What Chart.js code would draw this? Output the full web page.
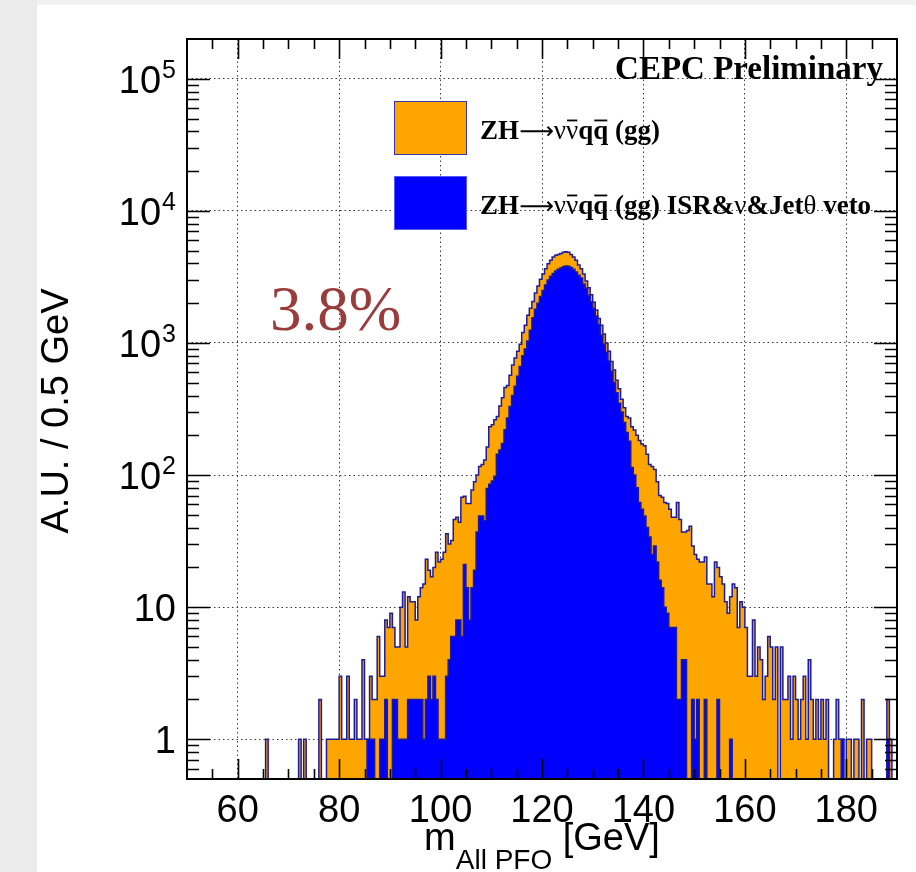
<!DOCTYPE html>
<html>
<head>
<meta charset="utf-8">
<title>m_All PFO</title>
<script src="https://cdn.jsdelivr.net/npm/chart.js@4.4.1/dist/chart.umd.min.js"></script>
<style>
    html, body { margin: 0; padding: 0; background: #fff; }
    canvas { display: block; }
</style>
</head>
<body>
<canvas id="massChart" width="916" height="872"></canvas>
<script>
// Histogram binning (GeV)
const massMin = 50;
const massMax = 190;
const binWidth = 0.5;

// Axis ranges and tick labels
const yAxisMin = 0.5;
const yAxisMax = 2e5;
const xTickValues = [60, 80, 100, 120, 140, 160, 180];
const yTickValues = [1, 10, 100, 1000, 10000, 100000];
const yTickBase = ['1', '10', '10', '10', '10', '10'];
const yTickExp = ['', '', '2', '3', '4', '5'];

// Entries per 0.5 GeV bin, 280 bins from 50 to 190 GeV
const allPfoCounts = [
    0, 0, 0, 0, 0, 0, 0, 0, 0, 0, 0, 0, 0, 0, 0, 0, 0, 0, 0, 0,                                   // 50-60
    0, 0, 0, 0, 0, 0, 0, 0, 0, 0, 0, 1, 0, 0, 0, 0, 0, 0, 0, 0,                                   // 60-70
    0, 0, 0, 0, 1, 0, 1, 0, 0, 0, 0, 0, 2, 0, 0, 1, 1, 1, 1, 1,                                   // 70-80
    3, 1, 1, 3, 1, 1, 2, 1, 1, 4, 1, 1, 3, 2, 2, 6, 3, 3, 8, 7,                                   // 80-90
    9, 7, 5, 5, 10, 13, 5, 12, 11, 11, 8, 12, 14, 15, 23, 19, 17, 20, 26, 22,                     // 90-100
    23, 26, 36, 30, 32, 46, 48, 44, 68, 69, 61, 61, 77, 89, 100, 116, 120, 130, 163, 232,         // 100-110
    240, 262, 278, 333, 385, 460, 476, 570, 680, 770, 866, 976, 1200, 1360, 1620, 1830, 2060, 2390, 2700, 3040,   // 110-120
    3330, 3640, 3970, 4220, 4480, 4620, 4670, 4760, 4850, 4900, 4850, 4670, 4480, 4220, 3900, 3640, 3330, 2950, 2620, 2320, // 120-130
    2030, 1775, 1530, 1360, 1170, 1000, 866, 725, 624, 521, 450, 375, 323, 278, 270, 232, 219, 200, 183, 172,     // 130-140
    167, 144, 120, 116, 110, 89, 70, 68, 62, 61, 55, 48, 48, 62, 46, 37, 37, 38, 41, 29,          // 140-150
    25, 23, 22, 22, 24, 15, 15, 12, 22, 20, 17, 15, 11, 9, 12, 15, 14, 7, 11, 10,                 // 150-160
    7, 3, 3, 8, 3, 5, 4, 2, 3, 6, 5, 2, 5, 0, 5, 2, 2, 3, 1, 3,                                   // 160-170
    2, 1, 2, 3, 1, 4, 2, 1, 2, 1, 2, 1, 2, 0, 0, 1, 2, 1, 1, 0,                                   // 170-180
    1, 1, 0, 1, 1, 0, 2, 0, 1, 1, 0, 0, 0, 0, 0, 0, 2, 1, 0, 0                                    // 180-190
];

// Same binning after the ISR, neutrino and jet-angle vetoes
const vetoCounts = [
    0, 0, 0, 0, 0, 0, 0, 0, 0, 0, 0, 0, 0, 0, 0, 0, 0, 0, 0, 0,                                   // 50-60
    0, 0, 0, 0, 0, 0, 0, 0, 0, 0, 0, 0, 0, 0, 0, 0, 0, 0, 0, 0,                                   // 60-70
    0, 0, 0, 0, 0, 0, 0, 0, 0, 0, 0, 0, 0, 0, 0, 0, 0, 0, 0, 0,                                   // 70-80
    0, 0, 0, 0, 0, 0, 0, 0, 0, 0, 0, 1, 1, 1, 0, 0, 1, 1, 2, 0,                                   // 80-90
    0, 2, 2, 1, 1, 1, 1, 2, 2, 2, 2, 2, 2, 1, 2, 3, 2, 3, 2, 1,                                   // 90-100
    1, 1, 3, 4, 6, 6, 8, 8, 6, 21, 14, 8, 14, 19, 37, 49, 49, 45, 79, 85,                         // 100-110
    90, 98, 144, 155, 173, 220, 270, 330, 400, 470, 560, 662, 800, 900, 1035, 1250, 1550, 1800, 2000, 2250,       // 110-120
    2500, 2750, 3000, 3200, 3350, 3500, 3620, 3700, 3780, 3820, 3800, 3720, 3620, 3450, 3250, 3100, 2800, 2600, 2300, 2050, // 120-130
    1830, 1600, 1380, 1150, 980, 850, 730, 610, 505, 420, 350, 300, 250, 210, 180, 114, 100, 80, 62, 55,          // 130-140
    49, 40, 34, 25, 29, 22, 16, 14, 10, 9, 7, 7, 7, 2, 2, 4, 4, 0, 0, 2,                          // 140-150
    1, 2, 0, 0, 2, 0, 0, 0, 0, 2, 0, 0, 0, 0, 1, 0, 0, 0, 0, 0,                                   // 150-160
    0, 0, 0, 0, 0, 0, 0, 0, 0, 0, 0, 0, 0, 0, 0, 0, 0, 0, 0, 0,                                   // 160-170
    0, 0, 0, 0, 0, 0, 0, 0, 0, 0, 0, 0, 0, 0, 0, 0, 0, 0, 1, 0,                                   // 170-180
    0, 0, 0, 0, 0, 0, 0, 0, 0, 0, 0, 0, 0, 0, 0, 0, 1, 0, 0, 0                                    // 180-190
];

// Legend entries, split into runs so the bars over nu and q can be drawn
const legendAll = [
    { t: 'ZH', bold: true }, { t: '\u27f6', sym: true }, { t: '\u03bd' }, { t: '\u03bd', bar: true },
    { t: 'q', bold: true }, { t: 'q', bold: true, bar: true }, { t: ' (gg)', bold: true }
];
const legendVeto = legendAll.concat([
    { t: ' ISR&', bold: true }, { t: '\u03bd' }, { t: '&Jet', bold: true }, { t: '\u03b8' }, { t: ' veto', bold: true }
]);

const orangeFill = '#ffa500';
const blueFill = '#0000ff';
const lineColor = '#1c1c9a';

// Step points at bin low edges plus the final upper edge.
// Empty bins sit on the lower edge of the log axis.
function toSteps(counts) {
    const pts = counts.map((c, i) => ({ x: massMin + i * binWidth, y: c > 0 ? c : yAxisMin }));
    pts.push({ x: massMax, y: pts[pts.length - 1].y });
    return pts;
}

// Page background with the grey strip on the left
const backdrop = {
    id: 'backdrop',
    beforeDraw(chart) {
        const ctx = chart.ctx;
        ctx.save();
        ctx.fillStyle = '#fff';
        ctx.fillRect(0, 0, chart.width, chart.height);
        ctx.fillStyle = '#ececec';
        ctx.fillRect(0, 0, 37, chart.height);
        ctx.fillStyle = '#f2f2f2';
        ctx.fillRect(37, 0, chart.width - 37, 5);
        ctx.restore();
    }
};

function drawRuns(ctx, runs, x, y, size) {
    runs.forEach(r => {
        const family = r.sym ? '"DejaVu Sans"' : '"Liberation Serif"';
        ctx.font = (r.bold ? 'bold ' : '') + (r.sym ? size * 0.9 : size) + 'px ' + family;
        ctx.fillText(r.t, x, y);
        const w = ctx.measureText(r.t).width;
        if (r.bar) ctx.fillRect(x + 1, y - size * 0.72, w - 2, 1.8);
        x += w;
    });
}

// Frame, inward ticks, tick labels, titles and legend
const rootStyle = {
    id: 'rootStyle',
    afterDatasetsDraw(chart) {
        const { ctx, chartArea: a, scales: { x, y } } = chart;
        ctx.save();

        // ticks on all four sides
        ctx.strokeStyle = '#000';
        ctx.lineWidth = 1.6;
        ctx.beginPath();
        for (let v = massMin + 5; v < massMax; v += 5) {
            const px = Math.round(x.getPixelForValue(v)) + 0.5;
            const len = xTickValues.includes(v) ? 20 : 10;
            ctx.moveTo(px, a.bottom); ctx.lineTo(px, a.bottom - len);
            ctx.moveTo(px, a.top); ctx.lineTo(px, a.top + len);
        }
        for (let e = -1; e <= 5; e++) {
            for (let d = 1; d <= 9; d++) {
                const v = d * Math.pow(10, e);
                if (v <= yAxisMin || v >= yAxisMax) continue;
                const py = Math.round(y.getPixelForValue(v)) + 0.5;
                const len = d === 1 ? 23 : 12;
                ctx.moveTo(a.left, py); ctx.lineTo(a.left + len, py);
                ctx.moveTo(a.right, py); ctx.lineTo(a.right - len, py);
            }
        }
        ctx.stroke();

        ctx.lineWidth = 2;
        ctx.strokeRect(a.left, a.top, a.right - a.left, a.bottom - a.top);

        // tick labels
        ctx.fillStyle = '#000';
        ctx.textBaseline = 'alphabetic';
        ctx.textAlign = 'center';
        ctx.font = '38px "Liberation Sans"';
        xTickValues.forEach(v => ctx.fillText(String(v), x.getPixelForValue(v), a.bottom + 43));

        ctx.textAlign = 'right';
        yTickValues.forEach((v, i) => {
            const py = y.getPixelForValue(v);
            let right = a.left - 11;
            if (yTickExp[i]) {
                ctx.font = '25px "Liberation Sans"';
                ctx.fillText(yTickExp[i], right, py - 1);
                right -= ctx.measureText(yTickExp[i]).width + 1;
            }
            ctx.font = '38px "Liberation Sans"';
            ctx.fillText(yTickBase[i], right, py + 14);
        });

        // axis titles
        ctx.save();
        ctx.translate(68, 411);
        ctx.rotate(-Math.PI / 2);
        ctx.textAlign = 'center';
        ctx.font = '38px "Liberation Sans"';
        ctx.fillText('A.U. / 0.5 GeV', 0, 0);
        ctx.restore();

        ctx.textAlign = 'left';
        ctx.font = '38px "Liberation Sans"';
        const wM = ctx.measureText('m').width;
        const wUnit = ctx.measureText(' [GeV]').width;
        ctx.font = '28px "Liberation Sans"';
        const wSub = ctx.measureText('All PFO').width;
        const tx = (a.left + a.right) / 2 - (wM + wSub + wUnit) / 2;
        ctx.font = '38px "Liberation Sans"';
        ctx.fillText('m', tx, 850);
        ctx.font = '28px "Liberation Sans"';
        ctx.fillText('All PFO', tx + wM, 869);
        ctx.font = '38px "Liberation Sans"';
        ctx.fillText(' [GeV]', tx + wM + wSub, 850);

        // labels inside the frame
        ctx.textAlign = 'right';
        ctx.font = 'bold 33px "Liberation Serif"';
        ctx.fillText('CEPC Preliminary', 883, 79);

        ctx.textAlign = 'left';
        ctx.fillStyle = '#9a3c3c';
        ctx.font = '63px "Liberation Serif"';
        ctx.fillText('3.8%', 270, 330);

        // legend
        const ds = chart.data.datasets;
        const boxes = [
            { top: 101, ds: ds[1], runs: legendAll, base: 139 },
            { top: 176, ds: ds[0], runs: legendVeto, base: 214 }
        ];
        boxes.forEach(b => {
            ctx.fillStyle = b.ds.backgroundColor;
            ctx.fillRect(394, b.top, 72, 53);
            ctx.lineWidth = 1;
            ctx.strokeStyle = b.ds.legendEdge;
            ctx.strokeRect(394.5, b.top + 0.5, 72, 53);
            ctx.fillStyle = '#000';
            drawRuns(ctx, b.runs, 480, b.base, 27);
        });

        ctx.restore();
    }
};

function initChart() {
    const ctx = document.getElementById('massChart').getContext('2d');

    new Chart(ctx, {
        type: 'line',
        data: {
            datasets: [
                {
                    label: 'ZH\u2192\u03bd\u03bdqq (gg) ISR&\u03bd&Jet\u03b8 veto',
                    data: toSteps(vetoCounts),
                    backgroundColor: blueFill,
                    borderColor: lineColor,
                    legendEdge: '#5a5aff',
                    borderWidth: 1.5,
                    fill: 'start',
                    stepped: 'before',
                    pointRadius: 0
                },
                {
                    label: 'ZH\u2192\u03bd\u03bdqq (gg)',
                    data: toSteps(allPfoCounts),
                    backgroundColor: orangeFill,
                    borderColor: lineColor,
                    legendEdge: '#3535a5',
                    borderWidth: 1.5,
                    fill: 'start',
                    stepped: 'before',
                    pointRadius: 0
                }
            ]
        },
        options: {
            responsive: false,
            animation: false,
            events: [],
            layout: {
                padding: { left: 187, top: 39, right: 19, bottom: 93 }
            },
            plugins: {
                legend: { display: false },
                tooltip: { enabled: false }
            },
            scales: {
                x: {
                    type: 'linear',
                    min: massMin,
                    max: massMax,
                    afterBuildTicks: scale => { scale.ticks = xTickValues.map(v => ({ value: v })); },
                    afterFit: scale => { scale.height = 0; },
                    ticks: { display: false },
                    grid: { color: '#3a3a3a', lineWidth: 1, drawTicks: false },
                    border: { display: false, dash: [1.5, 3] }
                },
                y: {
                    type: 'logarithmic',
                    min: yAxisMin,
                    max: yAxisMax,
                    afterBuildTicks: scale => { scale.ticks = yTickValues.map(v => ({ value: v })); },
                    afterFit: scale => { scale.width = 0; },
                    ticks: { display: false },
                    grid: { color: '#3a3a3a', lineWidth: 1, drawTicks: false },
                    border: { display: false, dash: [1.5, 3] }
                }
            }
        },
        plugins: [backdrop, rootStyle]
    });
}

document.addEventListener('DOMContentLoaded', initChart);
</script>
</body>
</html>
